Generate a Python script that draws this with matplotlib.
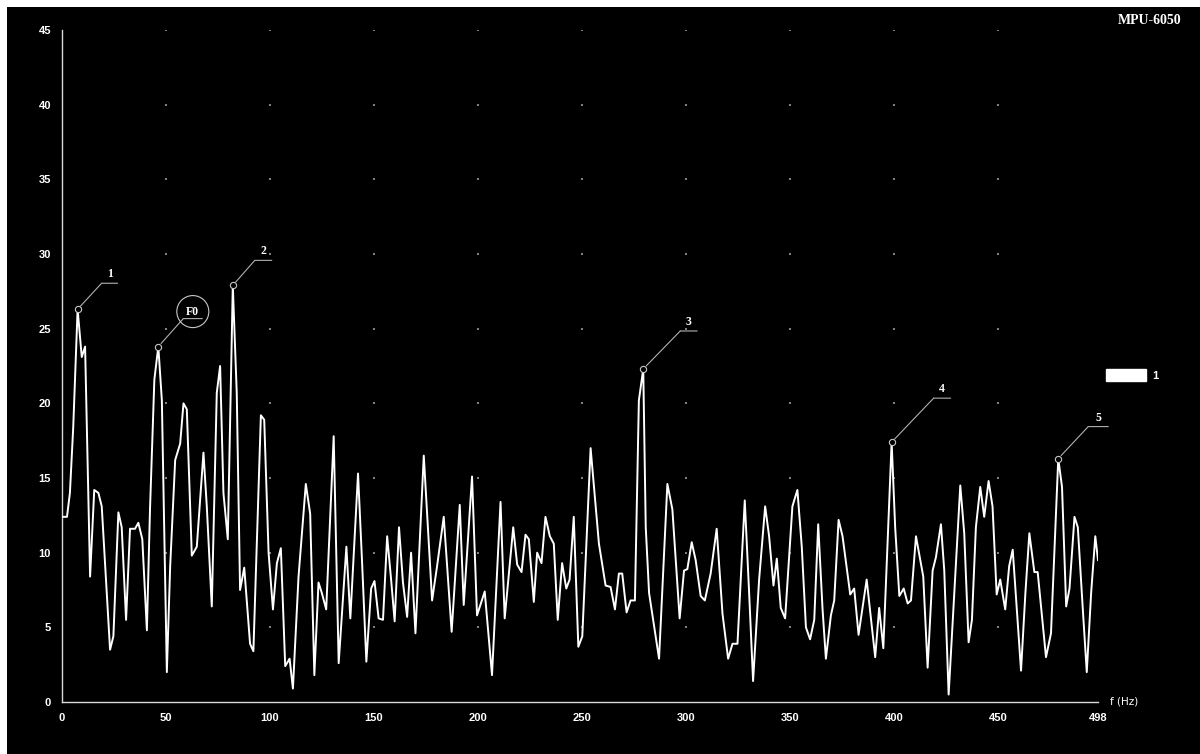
import numpy as np
import matplotlib
matplotlib.use("Agg")
import matplotlib.pyplot as plt
from matplotlib.patches import Rectangle, Patch
from matplotlib.transforms import offset_copy

# Spectre (f en Hz, amplitude)
freq = [0, 2.4, 3.8, 5.4, 7.5, 9.5, 11.1, 13.5, 15.5, 17.5, 19.1, 23.1, 24.7, 27.1, 28.7,
        30.8, 32.7, 35.1, 36.7, 38.6, 40.8, 42.3, 44.4, 46.3, 48.0, 50.4, 52.0, 54.4, 56.8,
        58.4, 60.0, 62.4, 64.8, 68.0, 69.6, 72.0, 74.4, 76.0, 77.6, 79.7, 82.1, 84.0, 85.6,
        87.6, 90.4, 92.0, 95.6, 97.2, 99.3, 101.4, 103.3, 105.2, 107.3, 109.4, 111.0, 113.7,
        117.2, 119.3, 121.3, 123.3, 124.9, 127.0, 130.6, 133.0, 136.7, 138.6, 142.3, 144.2,
        146.3, 148.6, 150.2, 152.2, 154.3, 156.3, 158.2, 159.9, 162.0, 163.9, 165.9, 167.8,
        169.9, 173.9, 177.9, 180.3, 183.5, 187.3, 191.2, 193.1, 197.1, 199.5, 203.2, 206.7,
        210.8, 212.8, 216.9, 218.8, 220.9, 222.8, 224.4, 226.8, 228.4, 230.5, 232.4, 234.5,
        236.4, 238.3, 240.4, 242.4, 244.0, 246.0, 248.2, 250.1, 254.1, 258.1, 261.3, 263.7,
        265.8, 267.7, 269.3, 271.4, 273.3, 275.4, 277.3, 279.4, 280.6, 282.2, 287.0, 291.0,
        293.4, 296.9, 299.0, 300.6, 302.7, 304.6, 307.0, 309.0, 311.8, 314.7, 317.5, 320.2,
        322.3, 324.7, 328.2, 330.3, 332.2, 335.1, 338.0, 339.9, 342.0, 343.6, 345.5, 347.6,
        351.1, 353.5, 355.6, 357.6, 359.6, 361.6, 363.5, 365.6, 367.2, 369.6, 371.2, 373.3,
        375.2, 378.9, 380.8, 382.9, 386.8, 390.9, 392.8, 394.8, 398.8, 400.5, 402.5, 404.6,
        406.5, 408.1, 410.5, 414.0, 416.1, 418.5, 420.1, 422.5, 424.1, 426.2, 428.9, 431.8,
        433.7, 435.8, 437.4, 439.3, 441.4, 443.3, 445.4, 447.3, 449.3, 451.0, 453.4, 455.3,
        457.0, 459.1, 461.0, 463.1, 465.0, 467.4, 469.0, 473.0, 475.4, 478.9, 480.7, 482.7,
        484.3, 486.7, 488.3, 490.7, 492.6, 494.7, 496.7, 498.0]
ampl = [12.4, 12.4, 14.0, 18.4, 26.3, 23.1, 23.8, 8.4, 14.2, 14.0, 13.1, 3.5, 4.4, 12.7, 11.7,
        5.5, 11.6, 11.6, 12.0, 10.9, 4.8, 12.9, 21.6, 23.8, 20.2, 2.0, 9.1, 16.2, 17.3,
        20.0, 19.6, 9.8, 10.4, 16.7, 13.1, 6.4, 20.7, 22.5, 14.0, 10.9, 27.9, 20.7, 7.5,
        9.0, 3.9, 3.4, 19.2, 18.9, 10.0, 6.2, 9.3, 10.3, 2.4, 2.9, 0.9, 8.4,
        14.6, 12.6, 1.8, 8.0, 7.3, 6.2, 17.8, 2.6, 10.4, 5.6, 15.3, 9.5,
        2.7, 7.6, 8.1, 5.6, 5.5, 11.1, 8.2, 5.4, 11.7, 8.0, 5.7, 10.0,
        4.6, 16.5, 6.8, 9.1, 12.4, 4.7, 13.2, 6.5, 15.1, 5.8, 7.4, 1.8,
        13.4, 5.6, 11.7, 9.2, 8.7, 11.2, 10.9, 6.7, 10.0, 9.3, 12.4, 11.1,
        10.6, 5.5, 9.3, 7.6, 8.2, 12.4, 3.7, 4.4, 17.0, 10.6, 7.8, 7.7,
        6.2, 8.6, 8.6, 6.0, 6.8, 6.8, 20.2, 22.3, 11.7, 7.3, 2.9, 14.6,
        12.9, 5.6, 8.8, 8.9, 10.7, 9.5, 7.1, 6.8, 8.6, 11.6, 5.9, 2.9,
        3.9, 3.9, 13.5, 7.3, 1.4, 8.2, 13.1, 11.1, 7.8, 9.6, 6.3, 5.6,
        13.1, 14.2, 10.4, 5.0, 4.2, 5.5, 11.9, 6.2, 2.9, 5.8, 6.8, 12.2,
        11.1, 7.2, 7.6, 4.5, 8.2, 3.0, 6.3, 3.6, 17.4, 11.7, 7.1, 7.6,
        6.6, 6.8, 11.1, 8.4, 2.3, 8.8, 9.7, 11.9, 8.8, 0.5, 7.3, 14.5,
        11.3, 4.0, 5.5, 11.7, 14.4, 12.4, 14.8, 13.1, 7.2, 8.2, 6.2, 9.1,
        10.2, 5.9, 2.1, 7.3, 11.3, 8.7, 8.7, 3.0, 4.6, 16.3, 14.4, 6.4,
        7.6, 12.4, 11.7, 6.2, 2.0, 7.3, 11.1, 9.5]

# Pics annotés
peak_freq = [7.5, 46.3, 82.1, 279.4, 398.8, 478.9]
peak_ampl = [26.3, 23.8, 27.9, 22.3, 17.4, 16.3]
peak_labels = ["1", "F0", "2", "3", "4", "5"]
# décalage du trait de rappel (pixels) et longueur du trait horizontal
leader = [(24, 26, 16), (25, 28, 19), (22, 25, 17), (37, 38, 17), (42, 44, 17), (30, 32, 20)]

xticks = [0, 50, 100, 150, 200, 250, 300, 350, 400, 450, 498]
yticks = [0, 5, 10, 15, 20, 25, 30, 35, 40, 45]

W, H = 1200, 754
fig = plt.figure(figsize=(W / 100, H / 100), dpi=100)
fig.patch.set_facecolor("white")
fig.patches.append(Rectangle((7 / W, 0), 1 - 7 / W, 1 - 7 / H, transform=fig.transFigure,
                             facecolor="black", edgecolor="none", zorder=-10))

ax = fig.add_axes([62 / W, 52 / H, 1036 / W, 672 / H])
ax.set_facecolor("black")
ax.set_xlim(0, 498)
ax.set_ylim(0, 45)

for s in ["top", "right"]:
    ax.spines[s].set_visible(False)
for s in ["left", "bottom"]:
    ax.spines[s].set_color("#d8d8d8")
    ax.spines[s].set_linewidth(1.0)

ax.set_xticks(xticks)
ax.set_yticks(yticks)
ax.tick_params(length=0, colors="white", pad=8)
for lab in ax.get_xticklabels() + ax.get_yticklabels():
    lab.set_fontfamily("Liberation Sans")
    lab.set_fontweight("bold")
    lab.set_fontsize(8)

# points de grille aux intersections
gx, gy = np.meshgrid(xticks[1:-1], yticks[1:])
ax.plot(gx.ravel(), gy.ravel(), ls="none", marker="s", ms=1.5, color="#808080", mew=0)

ax.plot(freq, ampl, color="white", lw=1.4, zorder=3)

for f, v, lab, (dx, dy, ln) in zip(peak_freq, peak_ampl, peak_labels, leader):
    ax.annotate("", xy=(f, v), xytext=(dx, dy), textcoords="offset pixels",
                arrowprops=dict(arrowstyle="-", color="#b0b0b0", lw=0.8, shrinkA=0, shrinkB=3))
    tr = offset_copy(ax.transData, fig=fig, x=dx, y=dy, units="dots")
    ax.annotate("", xy=(f, v), xycoords=tr, xytext=(ln, 0), textcoords="offset pixels",
                arrowprops=dict(arrowstyle="-", color="#b0b0b0", lw=0.8, shrinkA=0, shrinkB=0))
    kw = {}
    yoff = 3
    if lab == "F0":
        kw["bbox"] = dict(boxstyle="circle,pad=0.8", fc="none", ec="#c8c8c8", lw=0.8)
        yoff = 1
    ax.annotate(lab, xy=(f, v), xytext=(dx + ln / 2, dy + yoff), textcoords="offset pixels",
                ha="center", va="bottom", color="white", fontsize=8.5, fontweight="bold",
                fontfamily="Liberation Serif", **kw)
    ax.plot(f, v, marker="o", ms=4.5, mfc="black", mec="#c8c8c8", mew=0.8, zorder=4)

ax.text(1.012, 0, "f (Hz)", transform=ax.transAxes, ha="left", va="center",
        color="white", fontsize=7.5, fontfamily="DejaVu Sans")

fig.text(1150 / W, 1 - 20 / H, "MPU-6050", ha="center", va="center", color="white",
         fontsize=10, fontweight="bold", fontfamily="Liberation Serif")

fig.legend(handles=[Patch(facecolor="white", edgecolor="white")], labels=["1"],
           loc="center left", bbox_to_anchor=(1100 / W, 1 - 375 / H), frameon=False,
           handlelength=3.6, handleheight=1.4, handletextpad=0.6, borderpad=0,
           prop=dict(family="Liberation Sans", weight="bold", size=8), labelcolor="white")

fig.savefig("out.png", dpi=100, facecolor=fig.get_facecolor())
